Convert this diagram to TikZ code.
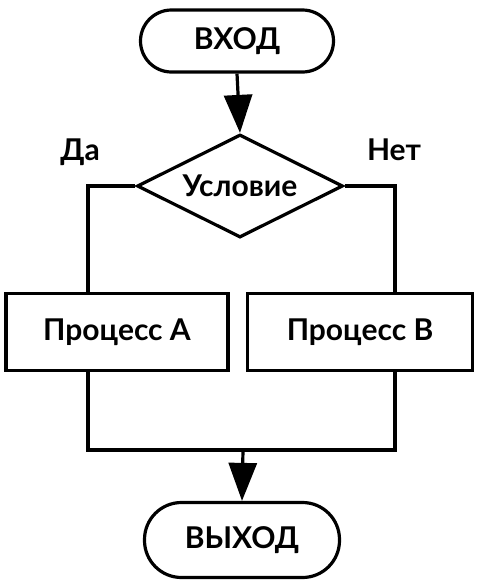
\documentclass[tikz,border=0pt]{standalone}
\usepackage{fontspec}
\setmainfont{Lato}
\usetikzlibrary{shapes.geometric,arrows.meta}
\begin{document}
\begin{tikzpicture}[x=1pt,y=-1pt,
  lw/.style={line width=3.2pt},
  txt/.style={font=\fontsize{30}{32}\selectfont\bfseries},
  term/.style={lw,draw,rectangle,rounded corners=31pt,inner sep=0pt,txt},
  proc/.style={lw,draw,rectangle,inner sep=0pt,txt},
  cond/.style={lw,draw,diamond,inner sep=0pt,minimum width=206pt,minimum height=103pt,aspect=2,txt},
  conn/.style={lw},
  arr/.style={lw,-{Triangle[length=38pt,width=28pt]}}]
\useasboundingbox (0,0) rectangle (480,584);
\node[term,minimum width=193pt,minimum height=62pt] (in) at (237,41) {ВХОД};
\node[cond] (c) at (240,186) {Условие};
\node[proc,minimum width=222pt,minimum height=77pt] (a) at (117,332) {Процесс A};
\node[proc,minimum width=225pt,minimum height=77pt] (b) at (360,332) {Процесс B};
\node[term,minimum width=195pt,minimum height=75pt,rounded corners=37pt] (out) at (242,540) {ВЫХОД};
\node[txt,inner sep=0pt] (da) at (80,152) {Да};
\node[txt,inner sep=0pt] (net) at (394,150) {Нет};
\coordinate (lj) at (88,450);
\coordinate (rj) at (395,450);
\coordinate (mj) at (243,450);
\draw[arr] (in.south) -- (c.north);
\draw[conn] (c.west) -| (a.north -| lj);
\draw[conn] (c.east) -| (b.north -| rj);
\draw[conn] (a.south -| lj) -- (lj) -- (rj) -- (b.south -| rj);
\draw[arr] (mj) -- (out.north);
\end{tikzpicture}
\end{document}
